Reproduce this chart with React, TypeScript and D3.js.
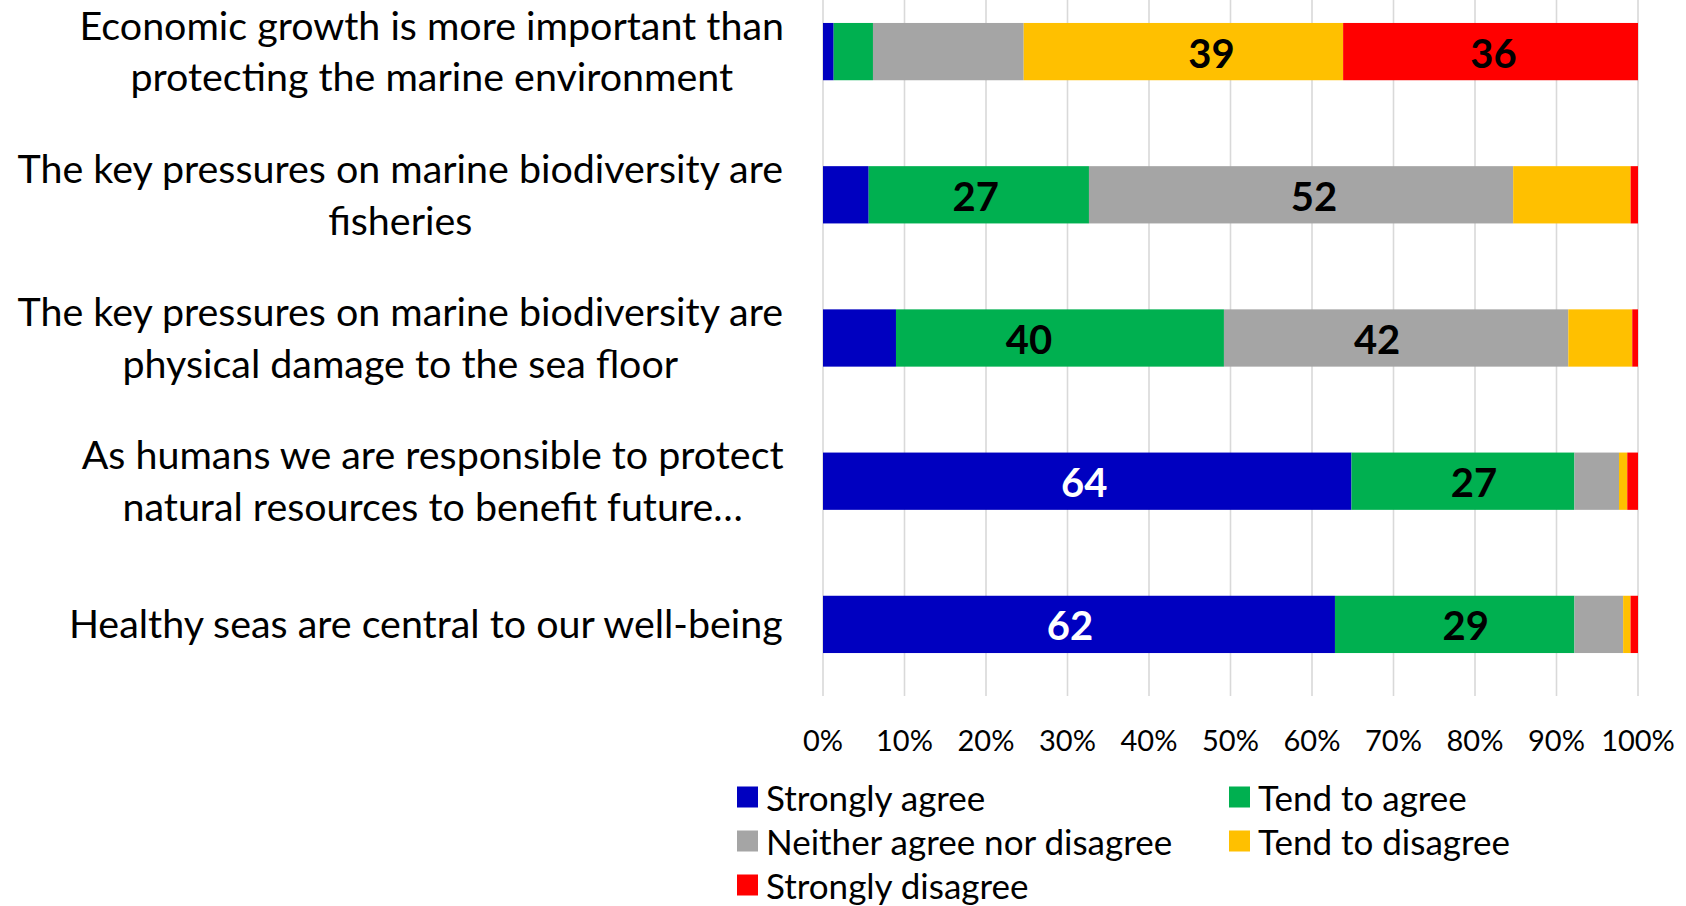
import React from "react";
import * as d3 from "d3";

// Survey statements (top to bottom) and the share of answers per response, in %
const statements: string[][] = [
  ["Economic growth is more important than", "protecting the marine environment"],
  ["The key pressures on marine biodiversity are", "fisheries"],
  ["The key pressures on marine biodiversity are", "physical damage to the sea floor"],
  ["As humans we are responsible to protect", "natural resources to benefit future…"],
  ["Healthy seas are central to our well-being"],
];

const responses = [
  "Strongly agree",
  "Tend to agree",
  "Neither agree nor disagree",
  "Tend to disagree",
  "Strongly disagree",
];

const stronglyAgree = [1.3, 5.6, 8.9, 64, 62];
const tendToAgree = [4.8, 27, 40, 27, 29];
const neitherNor = [18.4, 52, 42, 5.4, 5.9];
const tendToDisagree = [39, 14.4, 7.8, 1.0, 0.9];
const stronglyDisagree = [36, 0.9, 0.7, 1.3, 0.9];

// Which segments carry a value label: [row, series]
const labelled: [number, number][] = [
  [0, 3], [0, 4], [1, 1], [1, 2], [2, 1], [2, 2], [3, 0], [3, 1], [4, 0], [4, 1],
];

const tickValues = [0, 0.1, 0.2, 0.3, 0.4, 0.5, 0.6, 0.7, 0.8, 0.9, 1];

const colors = ["#0000C0", "#00B050", "#A5A5A5", "#FFC000", "#FF0000"];
const labelColors = ["#FFFFFF", "#000000", "#000000", "#000000", "#000000"];

// hand-placed label offsets (px) as laid out in the original layout
const labelNudge: Record<string, number> = {
  "0-3": 28, "0-4": 3, "1-1": -3, "1-2": 13, "2-1": -31, "2-2": -19,
  "3-0": -3, "3-1": 11, "4-0": -9, "4-1": 11,
};

const W = 1686;
const H = 906;
const FONT = "Lato, 'Open Sans', sans-serif";

const catFont = 39.4;
const tickFont = 29;
const legendFont = 35;
const valueFont = 40;

let ctx: CanvasRenderingContext2D | null = null;
function measure(text: string, size: number): number {
  if (!ctx) ctx = document.createElement("canvas").getContext("2d");
  if (!ctx) return text.length * size * 0.5;
  ctx.font = `${size}px Lato`;
  return ctx.measureText(text).width;
}

export default function App() {
  const series = [stronglyAgree, tendToAgree, neitherNor, tendToDisagree, stronglyDisagree];
  const rows = statements.map((_, i) => {
    const vals = series.map((s) => s[i]);
    const total = d3.sum(vals);
    let acc = 0;
    return vals.map((v) => {
      const x0 = acc / total;
      acc += v;
      return { x0, x1: acc / total, v };
    });
  });

  const x = d3.scaleLinear().domain([0, 1]).range([823, 1638]);
  const y = d3
    .scaleBand<number>()
    .domain(d3.range(statements.length))
    .range([-20, 696])
    .paddingInner(0.6)
    .paddingOuter(0.3);

  const labelRight = 784;
  const lineGap = 51.6;

  const legendItems = [
    { s: 0, x: 737, y: 797 },
    { s: 1, x: 1229, y: 797 },
    { s: 2, x: 737, y: 841 },
    { s: 3, x: 1229, y: 841 },
    { s: 4, x: 737, y: 885 },
  ];

  return (
    <svg
      width={W}
      height={H}
      style={{ position: "absolute", left: 0, top: 0, background: "#fff" }}
      fontFamily={FONT}
    >
      <rect x={0} y={0} width={W} height={H} fill="#fff" />
      {/* vertical gridlines */}
      {tickValues.map((t) => (
        <line
          key={t}
          x1={x(t)}
          x2={x(t)}
          y1={y.range()[0]}
          y2={y.range()[1]}
          stroke="#D9D9D9"
          strokeWidth={1.6}
        />
      ))}
      {/* stacked bars */}
      {rows.map((segs, i) =>
        segs.map((sg, s) => (
          <rect
            key={`${i}-${s}`}
            x={x(sg.x0)}
            y={y(i)!}
            width={Math.max(0, x(sg.x1) - x(sg.x0))}
            height={y.bandwidth()}
            fill={colors[s]}
          />
        ))
      )}
      {/* value labels */}
      {labelled.map(([i, s]) => {
        const sg = rows[i][s];
        const cx = (x(sg.x0) + x(sg.x1)) / 2 + (labelNudge[`${i}-${s}`] || 0);
        return (
          <text
            key={`l${i}-${s}`}
            x={cx}
            y={y(i)! + y.bandwidth() / 2 + 1}
            textAnchor="middle"
            dominantBaseline="central"
            fontSize={valueFont}
            fontWeight="bold"
            fill={labelColors[s]}
          >
            {Math.round(sg.v)}
          </text>
        );
      })}
      {/* category labels */}
      {statements.map((lines, i) => {
        const widest = d3.max(lines, (l) => measure(l, catFont)) || 0;
        const cx = labelRight - widest / 2;
        const cy = y(i)! + y.bandwidth() / 2 - 1.5;
        const start = cy - ((lines.length - 1) * lineGap) / 2;
        return (
          <text key={`c${i}`} fontSize={catFont} fill="#000" textAnchor="middle">
            {lines.map((l, k) => (
              <tspan key={k} x={cx} y={start + k * lineGap} dominantBaseline="central">
                {l}
              </tspan>
            ))}
          </text>
        );
      })}
      {/* x axis tick labels */}
      {tickValues.map((t) => (
        <text
          key={`t${t}`}
          x={x(t)}
          y={739}
          textAnchor="middle"
          dominantBaseline="central"
          fontSize={tickFont}
          fill="#000"
        >
          {d3.format(".0%")(t)}
        </text>
      ))}
      {/* legend */}
      {legendItems.map((it) => (
        <g key={`g${it.s}`}>
          <rect x={it.x} y={it.y - 10.5} width={21} height={21} fill={colors[it.s]} />
          <text
            x={it.x + 29}
            y={it.y}
            dominantBaseline="central"
            fontSize={legendFont}
            fill="#000"
          >
            {responses[it.s]}
          </text>
        </g>
      ))}
    </svg>
  );
}
